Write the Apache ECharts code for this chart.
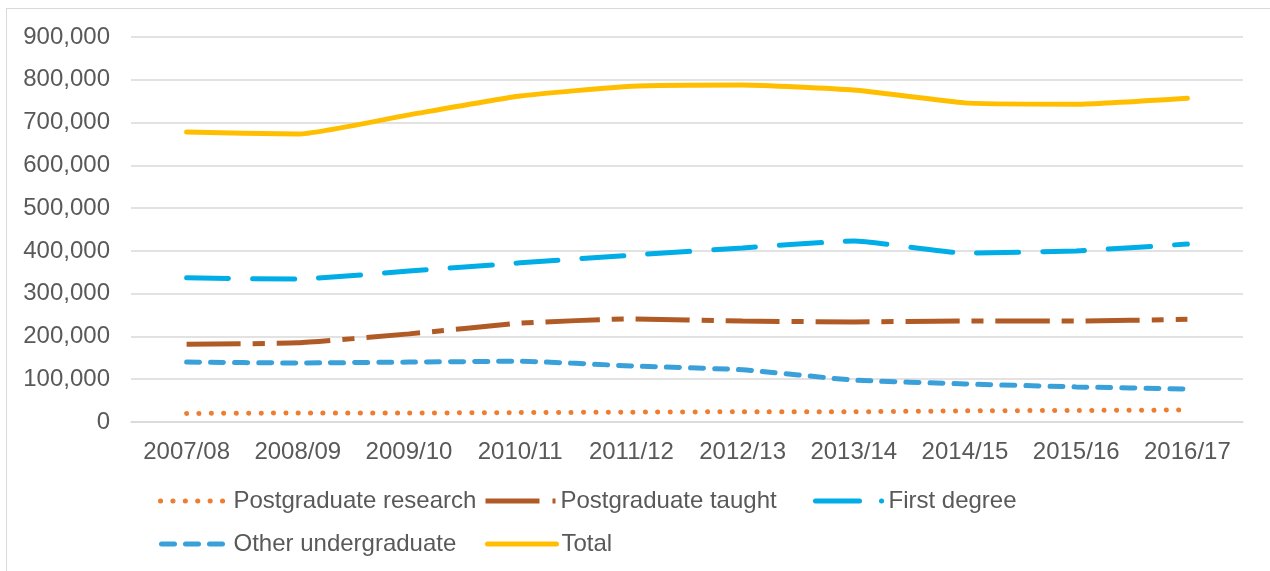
<!DOCTYPE html>
<html>
<head>
<meta charset="utf-8">
<script src="https://cdn.jsdelivr.net/npm/echarts@6/dist/echarts.min.js"></script>
<style>
  html, body { margin: 0; padding: 0; background: #fff; }
  #frame {
    position: absolute;
    left: 6px;
    top: 8px;
    width: 1300px;
    height: 600px;
    border: 1px solid #d9d9d9;
  }
  #chart { position: absolute; left: 0; top: 0; width: 1270px; height: 571px; }
</style>
</head>
<body>
<div id="frame"></div>
<div id="chart"></div>
<script>
  const years = ['2007/08', '2008/09', '2009/10', '2010/11', '2011/12', '2012/13', '2013/14', '2014/15', '2015/16', '2016/17'];
  const pgResearch = [20000, 21000, 21000, 22000, 23000, 24000, 24000, 26000, 27000, 28000];
  const pgTaught = [182000, 185000, 206000, 231000, 241000, 236000, 234000, 236000, 236000, 240000];
  const firstDegree = [337000, 334000, 353000, 372000, 390000, 407000, 423000, 395000, 400000, 416000];
  const otherUg = [140000, 138000, 140000, 142000, 131000, 122000, 98000, 89000, 82000, 77000];
  const total = [678000, 673000, 718000, 762000, 785000, 788000, 776000, 746000, 743000, 757000];

  const textColor = '#595959';
  const font = 'Liberation Sans, Arial, sans-serif';

  // legend placement mirrors the two-row legend under the plot
  const seriesDefs = [
    { name: 'Postgraduate research', data: pgResearch, color: '#ED7D31', dash: [0.1, 12.3], legendDash: [0.1, 12.3], cap: 'round', legendLeft: 158, legendTop: 501, iconW: 66, textPad: 2 },
    { name: 'Postgraduate taught', data: pgTaught, color: '#B05A26', dash: [54, 12, 12, 12], legendDash: [54, 13, 6, 20], cap: 'butt', legendLeft: 483, legendTop: 501, iconW: 73, textPad: -3 },
    { name: 'First degree', data: firstDegree, color: '#00ADE6', dash: [42, 24], legendDash: [44, 22, 0.1, 30], cap: 'round', legendLeft: 813, legendTop: 501, iconW: 70, textPad: -2 },
    { name: 'Other undergraduate', data: otherUg, color: '#3AA0DA', dash: [13, 11], legendDash: [13, 11], cap: 'round', legendLeft: 159, legendTop: 544, iconW: 66, textPad: 1 },
    { name: 'Total', data: total, color: '#FFBF00', dash: 'solid', legendDash: 'solid', cap: 'round', legendLeft: 485, legendTop: 544, iconW: 66, textPad: 3 },
  ];

  const myChart = echarts.init(document.getElementById('chart'));

  const option = {
    animation: false,
    grid: { left: 131, right: 27, top: 37, bottom: 149 },
    legend: seriesDefs.map(s => ({
      data: [s.name],
      left: s.legendLeft,
      top: s.legendTop - 12,
      itemWidth: s.iconW + s.textPad,
      itemHeight: 5,
      itemGap: 0,
      padding: 0,
      selectedMode: false,
      itemStyle: { opacity: 0 },
      lineStyle: { width: 5, type: s.legendDash, cap: s.cap, color: s.color },
      textStyle: { color: textColor, fontSize: 24, fontFamily: font },
    })),
    xAxis: {
      type: 'category',
      data: years,
      boundaryGap: true,
      axisLine: { lineStyle: { color: '#d9d9d9', width: 1.5 } },
      axisTick: { show: false },
      axisLabel: { color: textColor, fontSize: 24, fontFamily: font, margin: 18, interval: 0 },
    },
    yAxis: {
      type: 'value',
      min: 0,
      max: 900000,
      interval: 100000,
      axisLine: { show: false },
      axisTick: { show: false },
      splitLine: { lineStyle: { color: '#d9d9d9', width: 1.5 } },
      axisLabel: {
        color: textColor, fontSize: 24, fontFamily: font, margin: 21,
        formatter: v => v.toLocaleString('en-US'),
      },
    },
    series: seriesDefs.map(s => ({
      name: s.name,
      type: 'line',
      data: s.data,
      symbol: 'none',
      smooth: 0.15,
      color: s.color,
      lineStyle: { color: s.color, width: 5, type: s.dash, cap: s.cap },
    })),
  };

  myChart.setOption(option);
</script>
</body>
</html>
